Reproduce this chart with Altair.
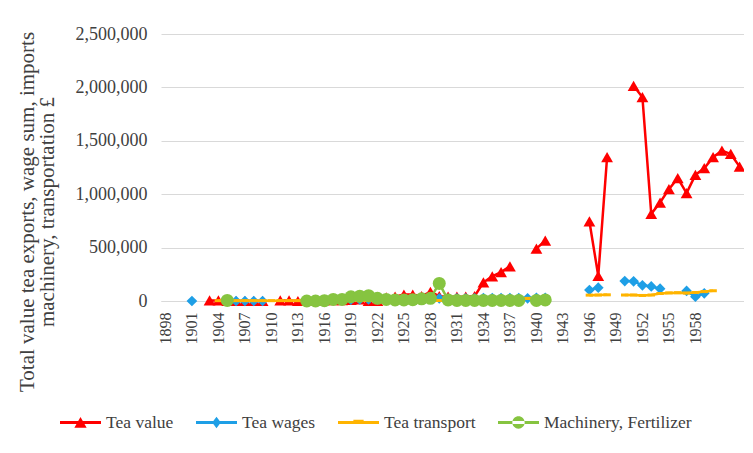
import altair as alt
import pandas as pd

years = list(range(1898, 1964))

# index 0 = 1898 ... index 65 = 1963
tea_value = [
    None, None, None, None, None,                 # 1898-1902
    5000, 5000, 2000, 0, 0, 0, 0,                 # 1903-1909
    None,                                         # 1910
    5000, 5000, 0,                                # 1911-1913
    5000, 5000, 8000, 8000, 8000, 10000, 15000,   # 1914-1920
    0, 0, 35000, 40000, 60000, 60000, 45000,      # 1921-1927
    85000, 45000, 40000, 40000, 40000, 45000,     # 1928-1933
    175000, 230000, 270000, 325000,               # 1934-1937
    None, None,                                   # 1938-1939
    490000, 565000,                               # 1940-1941
    None, None, None, None,                       # 1942-1945
    745000, 236000, 1346000,                      # 1946-1948
    None, None,                                   # 1949-1950
    2015000, 1908000, 816000, 922000, 1047000,    # 1951-1955
    1150000, 1010000, 1181000, 1243000, 1346000,  # 1956-1960
    1408000, 1377000, 1258000,                    # 1961-1963
]

tea_wages = [
    None, None, None, 0, None,                    # 1898-1902
    None, None, None, 0, 0, 0, 0,                 # 1903-1909
    None,                                         # 1910
    None, None, None,                             # 1911-1913
    5000, 5000, 8000, 10000, 10000, 12000, 15000, # 1914-1920
    15000, 15000, 15000, 15000, 18000, 18000, 20000,  # 1921-1927
    20000, 25000, 22000, 25000, 25000, 25000,     # 1928-1933
    28000, 28000, 28000, 28000,                   # 1934-1937
    28000, 25000,                                 # 1938-1939
    30000, 30000,                                 # 1940-1941
    None, None, None, None,                       # 1942-1945
    103000, 125000, None,                         # 1946-1948
    None, 187000,                                 # 1949-1950
    184000, 147000, 136000, 115000, None,         # 1951-1955
    None, 94000, 40000, 72000, None,              # 1956-1960
    None, None, None,                             # 1961-1963
]

tea_transport = [
    None, None, None, None, None,                 # 1898-1902
    None, 3000, 3000, 3000, 3000, 3000, 3000,     # 1903-1909
    3000,                                         # 1910
    3000, 3000, 3000,                             # 1911-1913
    5000, 5000, 5000, 5000, 5000, 5000, 5000,     # 1914-1920
    5000, 5000, 5000, 5000, 5000, 5000, 5000,     # 1921-1927
    5000, 5000, 5000, 5000, 5000, 5000,           # 1928-1933
    5000, 5000, 5000, 5000,                       # 1934-1937
    10000, 25000,                                 # 1938-1939
    10000, 10000,                                 # 1940-1941
    None, None, None, None,                       # 1942-1945
    55000, 56000, 58000,                          # 1946-1948
    None, 56000,                                  # 1949-1950
    56000, 52000, 56000, 70000, 76000,            # 1951-1955
    78000, 74000, 80000, 88000, 96000,            # 1956-1960
    None, None, None,                             # 1961-1963
]

machinery = [
    None, None, None, None, None,                 # 1898-1902
    None, None, 5000, None, None, None, None,     # 1903-1909
    None,                                         # 1910
    None, None, None,                             # 1911-1913
    0, 0, 3000, 15000, 15000, 40000, 45000,       # 1914-1920
    50000, 25000, 15000, 10000, 10000, 12000, 20000,  # 1921-1927
    25000, 165000, 10000, 5000, 5000, 5000,       # 1928-1933
    5000, 5000, 5000, 5000,                       # 1934-1937
    5000, None,                                   # 1938-1939
    5000, 10000,                                  # 1940-1941
    None, None, None, None,                       # 1942-1945
    None, None, None,                             # 1946-1948
    None, None,                                   # 1949-1950
    None, None, None, None, None,                 # 1951-1955
    None, None, None, None, None,                 # 1956-1960
    None, None, None,                             # 1961-1963
]

series_names = ["Tea value", "Tea wages", "Tea transport", "Machinery, Fertilizer"]
series_values = [tea_value, tea_wages, tea_transport, machinery]
series_colors = ["#FF0000", "#1E9FE6", "#FFB400", "#86C440"]
point_shapes = ["triangle-up", "diamond", "M-1,-0.4L1,-0.4L1,0.4L-1,0.4Z", "circle"]
point_sizes = [140, 115, 56, 169]

x_ticks = list(range(1898, 1959, 3))
y_ticks = [0, 500000, 1000000, 1500000, 2000000, 2500000]
y_title = ["Total value tea exports, wage sum, imports", "machinery, transportation \u00a3"]

rows = []
for name, vals in zip(series_names, series_values):
    seg = 0
    prev_none = True
    for yr, v in zip(years, vals):
        if v is None:
            prev_none = True
            continue
        if prev_none:
            seg += 1
        prev_none = False
        rows.append({"year": yr, "value": v, "series": name, "seg": f"{name}-{seg}"})
df = pd.DataFrame(rows)

# legend symbols: line with marker in the middle
LINE = "M-1,-0.075L1,-0.075L1,0.075L-1,0.075Z"
legend_paths = [
    LINE + "M0,-0.27L0.3,0.25L-0.3,0.25Z",
    LINE + "M0,-0.28L0.21,0L0,0.28L-0.21,0Z",
    LINE + "M-0.25,-0.14L0.25,-0.14L0.25,0.07L-0.25,0.07Z",
    LINE + "M-0.3,0A0.3,0.3,0,1,0,0.3,0A0.3,0.3,0,1,0,-0.3,0Z",
]

legend = alt.Legend(
    title=None,
    orient="none",
    direction="horizontal",
    columns=4,
    legendX=-101,
    legendY=368,
    symbolSize=1681,
    symbolOpacity=1,
    symbolStrokeWidth=0,
    labelOffset=5,
    columnPadding=22,
    labelFont="Liberation Serif",
    labelFontSize=17.5,
    labelColor="#404040",
)

x_enc = alt.X(
    "year:Q",
    scale=alt.Scale(domain=[1897.5, 1963.5], nice=False, zero=False),
    axis=alt.Axis(
        values=x_ticks, format="d", labelAngle=-90, grid=False, ticks=False,
        domainColor="#d9d9d9", labelPadding=11, title=None,
        labelFont="Liberation Serif", labelFontSize=16, labelColor="#404040",
    ),
)
y_enc = alt.Y(
    "value:Q",
    scale=alt.Scale(domain=[0, 2500000], nice=False),
    axis=alt.Axis(
        values=y_ticks, format=",d", domain=False, ticks=False, grid=True,
        gridColor="#d9d9d9", labelPadding=14,
        labelFont="Liberation Serif", labelFontSize=18, labelColor="#404040",
        title=y_title, titleFont="Liberation Serif", titleFontSize=21,
        titleFontWeight="normal", titleColor="#404040", titleAngle=-90,
        titleX=-145, titleY=177.5, titleAlign="center", titleBaseline="top",
        titleLineHeight=20,
    ),
)

layers = []
for name, col, shp, sz in zip(series_names, series_colors, point_shapes, point_sizes):
    base = alt.Chart(df).transform_filter(alt.datum.series == name)
    line = base.mark_line(strokeWidth=2.5, color=col).encode(
        x=x_enc, y=y_enc, detail="seg:N"
    )
    pts = base.mark_point(filled=True, shape=shp, size=sz, opacity=1, color=col).encode(
        x=x_enc, y=y_enc
    )
    layers += [line, pts]

# invisible layer that only carries the legend (line + marker symbols)
legend_layer = alt.Chart(df).mark_point(filled=True, opacity=0).encode(
    x=x_enc,
    y=y_enc,
    color=alt.Color("series:N", scale=alt.Scale(domain=series_names, range=series_colors), legend=legend),
    shape=alt.Shape("series:N", scale=alt.Scale(domain=series_names, range=legend_paths), legend=legend),
)
layers.append(legend_layer)

chart = alt.layer(*layers).properties(
    width=583,
    height=267,
    padding={"left": 153, "top": 26, "right": 0, "bottom": 140},
    autosize=alt.AutoSizeParams(type="none"),
    background="white",
).configure_view(stroke=None)

chart.save("out.html", embed_options={"renderer": "svg", "actions": False})
